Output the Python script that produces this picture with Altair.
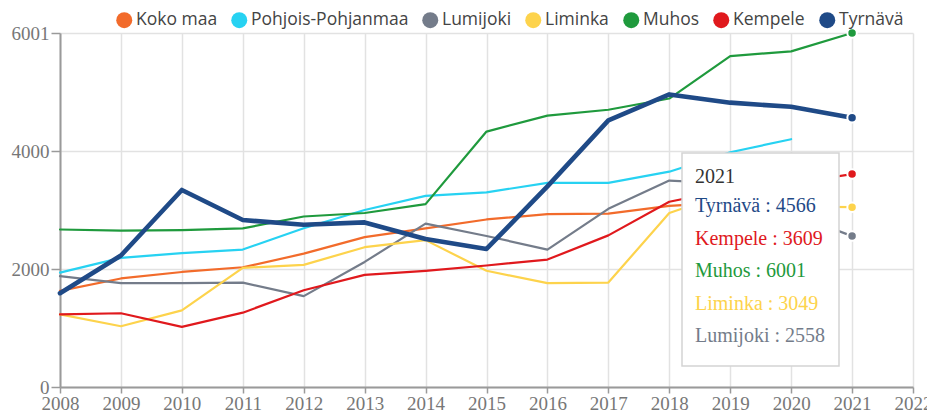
import altair as alt
import pandas as pd

years = list(range(2008, 2022))
x_ticks = list(range(2008, 2023))
y_ticks = [0, 2000, 4000, 6001]

series = ["Koko maa", "Pohjois-Pohjanmaa", "Lumijoki", "Liminka", "Muhos", "Kempele", "Tyrnävä"]
colors = ["#f26b2b", "#27d2f2", "#747c8a", "#fdd34c", "#1f9a3d", "#e0191d", "#1f4a87"]

koko_maa = [1630, 1840, 1950, 2030, 2260, 2540, 2690, 2840, 2930, 2940, 3070, 3130, 3170, None]
pohjois_pohjanmaa = [1940, 2190, 2270, 2330, 2690, 3000, 3240, 3300, 3460, 3460, 3650, 3980, 4200, None]
lumijoki = [1880, 1760, 1760, 1770, 1540, 2120, 2770, 2560, 2330, 3020, 3500, 3450, 2950, 2558]
liminka = [1230, 1030, 1300, 2020, 2070, 2370, 2490, 1970, 1760, 1770, 2950, 3300, 3060, 3049]
muhos = [2670, 2650, 2660, 2690, 2890, 2950, 3100, 4330, 4600, 4700, 4890, 5610, 5690, 6001]
kempele = [1230, 1250, 1020, 1260, 1640, 1900, 1970, 2060, 2160, 2570, 3140, 3350, 3450, 3609]
tyrnava = [1590, 2230, 3340, 2830, 2750, 2790, 2510, 2340, 3400, 4520, 4960, 4820, 4750, 4566]

values = [koko_maa, pohjois_pohjanmaa, lumijoki, liminka, muhos, kempele, tyrnava]

tooltip_year = 2021
tooltip_order = ["Tyrnävä", "Kempele", "Muhos", "Liminka", "Lumijoki"]

rows = []
for name, vals in zip(series, values):
    for yr, v in zip(years, vals):
        if v is not None:
            rows.append({"series": name, "kunta": name, "year": yr, "value": v})
df = pd.DataFrame(rows)

last = df[df["year"] == tooltip_year]
tt_rows = []
for i, name in enumerate(tooltip_order):
    v = int(last[last["series"] == name]["value"].iloc[0])
    tt_rows.append({"series": name, "label": f"{name} : {v}", "py": 179 + 32.5 * i})
tt_df = pd.DataFrame(tt_rows)

color_map = dict(zip(series, colors))
dom_sorted = sorted(series)
# line/text colour scale (no legend); legend comes from the fill scale below
color_scale = alt.Scale(domain=dom_sorted, range=[color_map[s] for s in dom_sorted])
fill_scale = alt.Scale(domain=series, range=colors)

x_enc = alt.X("year:Q", scale=alt.Scale(domain=[2008, 2022], nice=False, zero=False),
              axis=alt.Axis(values=x_ticks, format="d", title=None, tickSize=6,
                            labelPadding=1, labelFlush=False))
y_enc = alt.Y("value:Q", scale=alt.Scale(domain=[0, 6001], nice=False),
              axis=alt.Axis(values=y_ticks, format="d", title=None, tickSize=9,
                            labelPadding=2, labelFlush=False))

base = alt.Chart(df)

lines_other = base.transform_filter(alt.datum.series != "Tyrnävä").mark_line(
    strokeWidth=2.2, strokeJoin="round", strokeCap="round"
).encode(
    x=x_enc, y=y_enc,
    color=alt.Color("series:N", scale=color_scale, legend=None),
    detail="series:N",
)

line_tyr = base.transform_filter(alt.datum.series == "Tyrnävä").mark_line(
    strokeWidth=4.6, strokeJoin="round", strokeCap="round"
).encode(
    x=x_enc, y=y_enc,
    color=alt.Color("series:N", scale=color_scale, legend=None),
)

points = base.transform_filter(alt.datum.year == tooltip_year).mark_circle(
    size=90, opacity=1, stroke="white", strokeWidth=2
).encode(
    x=x_enc, y=y_enc,
    fill=alt.Fill("kunta:N", scale=fill_scale, sort=series,
                  legend=alt.Legend(title=None, orient="none", legendX=55.5, legendY=-22,
                                    direction="horizontal", symbolType="circle",
                                    symbolSize=256, symbolStrokeWidth=0,
                                    labelFont="Open Sans", labelFontSize=17.5,
                                    labelLimit=400,
                                    labelColor="#444444", columnPadding=13,
                                    labelOffset=3, padding=0)),
)

tt_box = alt.Chart(pd.DataFrame({"k": [0]})).mark_rect(
    fill="white", stroke="#d4d4d4", strokeWidth=1.5, opacity=1
).encode(x=alt.value(622), x2=alt.value(779), y=alt.value(120), y2=alt.value(333))

tt_title = alt.Chart(pd.DataFrame({"t": [str(tooltip_year)]})).mark_text(
    align="left", baseline="alphabetic", font="Liberation Serif", fontSize=20, color="#333333"
).encode(x=alt.value(635), y=alt.value(150), text="t:N")

tt_text = alt.Chart(tt_df).mark_text(
    align="left", baseline="alphabetic", font="Liberation Serif", fontSize=20
).encode(
    x=alt.value(635),
    y=alt.Y("py:Q", scale=None, axis=None),
    text="label:N",
    color=alt.Color("series:N", scale=color_scale, legend=None),
)

chart = alt.layer(lines_other, line_tyr, points, tt_box, tt_title, tt_text).properties(
    width=853, height=354,
    autosize=alt.AutoSizeParams(type="none"),
    padding={"left": 52, "top": 25, "right": 14, "bottom": 25},
).configure_axis(
    labelFont="Liberation Serif", labelFontSize=19, labelColor="#777777",
    domainColor="#9a9a9a", domainWidth=2, tickColor="#9a9a9a", tickWidth=1.5,
    gridColor="#e2e2e2", gridWidth=1.5,
).configure_view(strokeWidth=0)

chart.save("out.html", embed_options={"renderer": "svg", "actions": False})
